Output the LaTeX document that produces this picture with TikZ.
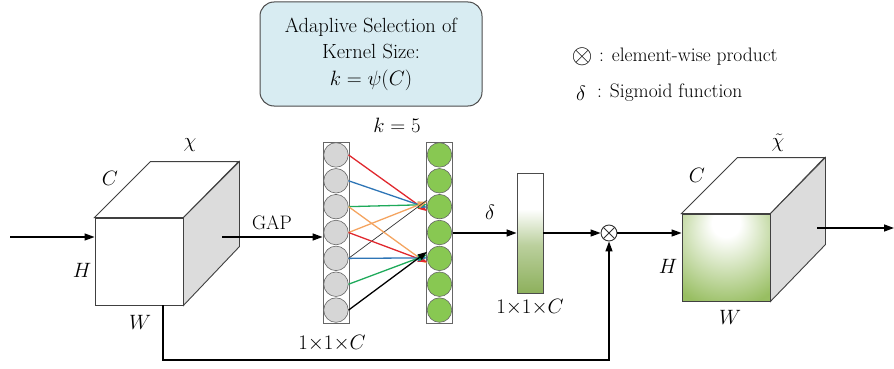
\documentclass[tikz,border=0pt]{standalone}
\usetikzlibrary{arrows.meta,calc,shapes.geometric}
\definecolor{boxblue}{HTML}{D8ECF2}
\definecolor{sidegray}{HTML}{DCDCDC}
\definecolor{circgray}{HTML}{D6D6D6}
\definecolor{circgreen}{HTML}{88C852}
\definecolor{barG}{HTML}{8DB05C}
\definecolor{cubeG}{HTML}{98BE62}
\definecolor{aRed}{HTML}{E0282E}
\definecolor{aBlue}{HTML}{2E75B6}
\definecolor{aGreen}{HTML}{1EAA5A}
\definecolor{aOrange}{HTML}{F4A460}
\pgfdeclareverticalshading{barshade}{100bp}{color(0bp)=(barG); color(25bp)=(barG); color(45bp)=(barG!60!white); color(60bp)=(white); color(100bp)=(white)}
\pgfdeclareradialshading{cubeshade}{\pgfpoint{0bp}{22bp}}{color(0bp)=(white); color(8bp)=(white); color(40bp)=(cubeG); color(80bp)=(cubeG)}
\tikzset{
  every node/.style={font=\fontsize{19.5}{23}\selectfont, inner sep=0pt},
  arr/.style={line width=1.3pt, -{Triangle[length=10pt,width=7pt]}},
  carr/.style={line width=1.3pt, -{Triangle[length=9pt,width=6.5pt]}},
  cubeline/.style={draw=black!75, line width=0.9pt},
  colbox/.style={draw=black!60, line width=0.8pt, minimum width=26pt, minimum height=181pt},
  gcirc/.style={circle, draw=black!60, line width=0.6pt, fill=circgray, minimum size=24.5pt},
  ncirc/.style={circle, draw=black!60, line width=0.6pt, fill=circgreen, minimum size=24.5pt},
}
\begin{document}
\begin{tikzpicture}[x=1pt,y=-1pt]
\useasboundingbox (0,0) rectangle (894,369);

% top box
\node[draw=black!70, line width=1pt, fill=boxblue, rounded corners=14pt, minimum width=222pt, minimum height=104pt, align=center, font=\fontsize{20.5}{26.5}\selectfont] (box) at (371,54) {Adaplive Selection of\\Kernel Size:\\$k=\psi(C)$};

% legend
\node (lotimes) at (582,57) {\scalebox{1.3}{$\otimes$}};
\node[anchor=west] (ltext1) at (599,57) {: element-wise product};
\node (ldelta) at (581,93) {$\delta$};
\node[anchor=west] (ltext2) at (597,93) {: Sigmoid function};

% left cube
\node[cubeline, fill=white, minimum width=88pt, minimum height=87pt] (c1) at (139,261.5) {};
\draw[cubeline, fill=white] (c1.north west) -- ++(56,-56) -- ++(88,0) -- (c1.north east) -- cycle;
\draw[cubeline, fill=sidegray] (c1.north east) -- ++(56,-56) -- ++(0,85) -- (c1.south east) -- cycle;
\node (chi) at (190,145) {$\chi$};
\node (C1) at (110,178) {$C$};
\node (H1) at (82,270) {$H$};
\node (W1) at (140,322) {$W$};

% input arrow
\coordinate (inp) at (10,237);
\draw[arr] (inp) -- (inp -| c1.west);

% columns
\node[colbox] (colL) at (336,232.5) {};
\node[colbox] (colR) at (439.5,232.5) {};
\foreach \i in {1,...,7}{
  \node[gcirc] (l\i) at (336,{142+25.86*(\i-0.5)}) {};
  \node[ncirc] (r\i) at (439.5,{142+25.86*(\i-0.5)}) {};
}

% GAP arrow
\coordinate (gapstart) at (222,237);
\draw[arr] (gapstart) -- (gapstart -| colL.west);
\node (gap) at (272,223) {GAP};
\node (k5) at (397,125) {$k=5$};
\node (dimL) at (332,343) {$1{\times}1{\times}C$};

% conv arrows
\draw[carr, aRed]    (l1.east) -- ([yshift=-4.5pt]r3.west);
\draw[carr, aBlue]   (l2.east) -- ([yshift=-1pt]r3.west);
\draw[carr, aGreen]  (l3.east) -- ([yshift=2pt]r3.west);
\draw[carr, aOrange] (l4.east) -- ([yshift=5pt]r3.west);
\draw[black!80, line width=0.7pt] (l5.east) -- ([yshift=6.5pt]r3.west);
\draw[carr, aOrange] (l3.east) -- ([yshift=-5pt]r5.west);
\draw[carr, aRed]    (l4.east) -- ([yshift=-3.5pt]r5.west);
\draw[carr, aBlue]   (l5.east) -- ([yshift=0.5pt]r5.west);
\draw[carr, aGreen]  (l6.east) -- ([yshift=3.5pt]r5.west);
\draw[carr, black]   (l7.east) -- ([yshift=6.5pt]r5.west);

% sigmoid bar
\node[draw=black!70, line width=0.8pt, shading=barshade, minimum width=26pt, minimum height=120pt] (bar) at (530,233) {};
\draw[arr] (colR.east |- bar.west) -- (bar.west);
\node (delta) at (490,212) {$\delta$};
\node (dimR) at (530,307) {$1{\times}1{\times}C$};

% multiply
\node[circle, draw=black!80, line width=0.9pt, fill=white, minimum size=16pt] (mul) at (609,233) {};
\draw[line width=0.9pt, black!80] (mul.north west) -- (mul.south east) (mul.north east) -- (mul.south west);
\draw[arr] (bar.east) -- (mul.west);

% skip
\coordinate (sk) at (163,360);
\draw[arr] (sk |- c1.south) -- (sk) -- (sk -| mul.south) -- (mul.south);

% right cube
\node[cubeline, shading=cubeshade, minimum width=88pt, minimum height=87pt] (c2) at (726,257.5) {};
\draw[cubeline, fill=white] (c2.north west) -- ++(56,-56) -- ++(87,0) -- (c2.north east) -- cycle;
\draw[cubeline, fill=sidegray] (c2.north east) -- ++(55,-56) -- ++(0,87) -- (c2.south east) -- cycle;
\draw[arr] (mul.east) -- (mul.east -| c2.west);
\node (tchi) at (778,143) {$\tilde{\chi}$};
\node (C2) at (697,175) {$C$};
\node (H2) at (668,266) {$H$};
\node (W2) at (730,317) {$W$};
\coordinate (outs) at (817,228);
\coordinate (oute) at (894,228);
\draw[arr] (outs) -- (oute);
\end{tikzpicture}
\end{document}
